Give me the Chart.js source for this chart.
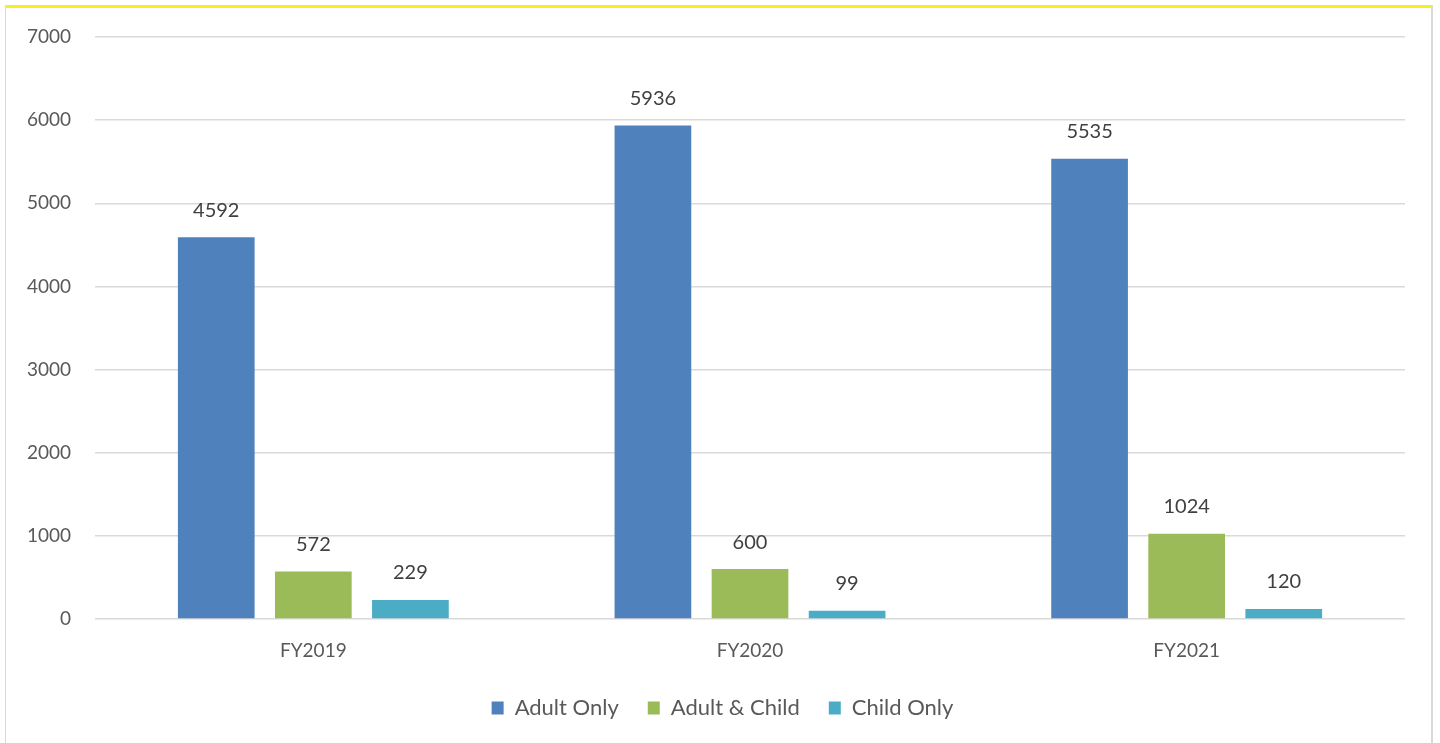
<!DOCTYPE html>
<html>
<head>
<meta charset="utf-8">
<script src="https://cdn.jsdelivr.net/npm/chart.js@4.4.1/dist/chart.umd.min.js"></script>
<style>
  html, body { margin: 0; padding: 0; background: #ffffff; width: 1440px; height: 743px; overflow: hidden; }
  #frame { position: absolute; left: 5px; top: 5px; width: 1428px; height: 745px; border-top: 3px solid #f5f01e; border-left: 1px solid #d9d9d9; border-right: 2px solid #d9d9d9; box-sizing: border-box; }
  #wrap { position: absolute; left: 0; top: 0; width: 1440px; height: 743px; }
</style>
</head>
<body>
<div id="frame"></div>
<div id="wrap"><canvas id="c" width="1440" height="743"></canvas></div>
<script>
const categories = ["FY2019", "FY2020", "FY2021"];
const seriesNames = ["Adult Only", "Adult & Child", "Child Only"];
const adultOnly = [4592, 5936, 5535];
const adultAndChild = [572, 600, 1024];
const childOnly = [229, 99, 120];
const yTicks = [0, 1000, 2000, 3000, 4000, 5000, 6000, 7000];
const seriesColors = ["#4f81bd", "#9bbb59", "#4bacc6"];

const FONT = "Lato, 'Open Sans', sans-serif";

const valueLabels = {
  id: "valueLabels",
  afterDatasetsDraw(chart) {
    const ctx = chart.ctx;
    ctx.save();
    ctx.font = "20px " + FONT;
    ctx.fillStyle = "#404040";
    ctx.textAlign = "center";
    ctx.textBaseline = "middle";
    chart.data.datasets.forEach((ds, i) => {
      const meta = chart.getDatasetMeta(i);
      meta.data.forEach((bar, j) => {
        ctx.fillText(String(ds.data[j]), bar.x, bar.y - 27);
      });
    });
    ctx.restore();
  }
};

// centre the legend under the whole frame rather than the plot box
const legendCentre = {
  id: "legendCentre",
  afterLayout(chart) {
    if (chart.legend) { chart.legend.left += 40; }
  }
};

new Chart(document.getElementById("c"), {
  type: "bar",
  data: {
    labels: categories,
    datasets: [
      { label: seriesNames[0], data: adultOnly, backgroundColor: seriesColors[0] },
      { label: seriesNames[1], data: adultAndChild, backgroundColor: seriesColors[1] },
      { label: seriesNames[2], data: childOnly, backgroundColor: seriesColors[2] }
    ]
  },
  options: {
    responsive: false,
    animation: false,
    layout: { padding: { left: 0, right: 35, top: 37, bottom: 14 } },
    datasets: { bar: { categoryPercentage: 0.667, barPercentage: 0.79 } },
    plugins: {
      tooltip: { enabled: false },
      legend: {
        position: "bottom",
        labels: {
          color: "#595959",
          font: { family: FONT, size: 22 },
          boxWidth: 12, boxHeight: 13,
          padding: 29
        }
      }
    },
    scales: {
      x: {
        grid: { display: false },
        border: { display: false },
        ticks: { color: "#595959", font: { family: FONT, size: 19 }, padding: 12 },
        afterFit(scale) { scale.height = 49; }
      },
      y: {
        min: 0, max: 7000,
        afterBuildTicks(scale) { scale.ticks = yTicks.map(v => ({ value: v })); },
        grid: { color: "#d9d9d9", lineWidth: 1.5, drawTicks: false },
        border: { display: false },
        ticks: { color: "#595959", font: { family: FONT, size: 19 }, padding: 24, callback: (v) => String(v) },
        afterFit(scale) { scale.width = 95; }
      }
    }
  },
  plugins: [valueLabels, legendCentre]
});
</script>
</body>
</html>
